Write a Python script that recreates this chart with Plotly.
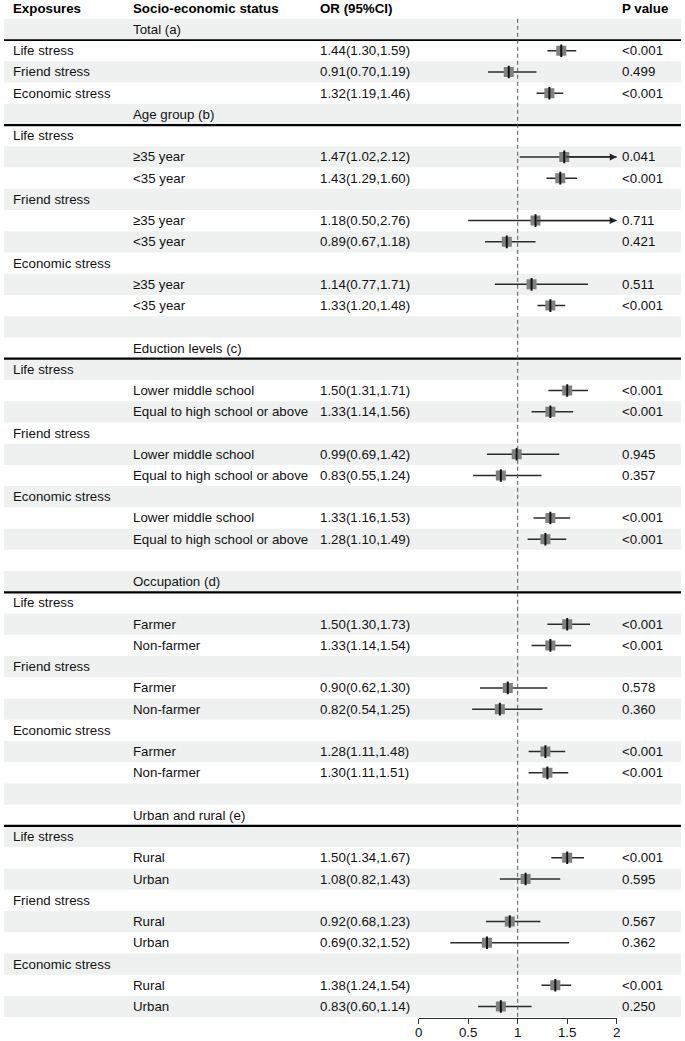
import plotly.graph_objects as go

# table columns (body rows, header kept separately)
header = ["Exposures", "Socio-economic status", "OR (95%CI)", "P value"]

exposure = [
    "", "Life stress", "Friend stress", "Economic stress",
    "", "Life stress", "", "", "Friend stress", "", "", "Economic stress", "", "",
    "", "", "Life stress", "", "", "Friend stress", "", "", "Economic stress", "", "",
    "", "", "Life stress", "", "", "Friend stress", "", "", "Economic stress", "", "",
    "", "", "Life stress", "", "", "Friend stress", "", "", "Economic stress", "", "",
]
status = [
    "Total (a)", "", "", "",
    "Age group (b)", "", "≥35 year", "<35 year", "", "≥35 year", "<35 year", "", "≥35 year", "<35 year",
    "", "Eduction levels (c)", "", "Lower middle school", "Equal to high school or above", "",
    "Lower middle school", "Equal to high school or above", "", "Lower middle school", "Equal to high school or above",
    "", "Occupation (d)", "", "Farmer", "Non-farmer", "", "Farmer", "Non-farmer", "", "Farmer", "Non-farmer",
    "", "Urban and rural (e)", "", "Rural", "Urban", "", "Rural", "Urban", "", "Rural", "Urban",
]
est = [
    None, 1.44, 0.91, 1.32,
    None, None, 1.47, 1.43, None, 1.18, 0.89, None, 1.14, 1.33,
    None, None, None, 1.50, 1.33, None, 0.99, 0.83, None, 1.33, 1.28,
    None, None, None, 1.50, 1.33, None, 0.90, 0.82, None, 1.28, 1.30,
    None, None, None, 1.50, 1.08, None, 0.92, 0.69, None, 1.38, 0.83,
]
lower = [
    None, 1.30, 0.70, 1.19,
    None, None, 1.02, 1.29, None, 0.50, 0.67, None, 0.77, 1.20,
    None, None, None, 1.31, 1.14, None, 0.69, 0.55, None, 1.16, 1.10,
    None, None, None, 1.30, 1.14, None, 0.62, 0.54, None, 1.11, 1.11,
    None, None, None, 1.34, 0.82, None, 0.68, 0.32, None, 1.24, 0.60,
]
upper = [
    None, 1.59, 1.19, 1.46,
    None, None, 2.12, 1.60, None, 2.76, 1.18, None, 1.71, 1.48,
    None, None, None, 1.71, 1.56, None, 1.42, 1.24, None, 1.53, 1.49,
    None, None, None, 1.73, 1.54, None, 1.30, 1.25, None, 1.48, 1.51,
    None, None, None, 1.67, 1.43, None, 1.23, 1.52, None, 1.54, 1.14,
]
pval = [
    "", "<0.001", "0.499", "<0.001",
    "", "", "0.041", "<0.001", "", "0.711", "0.421", "", "0.511", "<0.001",
    "", "", "", "<0.001", "<0.001", "", "0.945", "0.357", "", "<0.001", "<0.001",
    "", "", "", "<0.001", "<0.001", "", "0.578", "0.360", "", "<0.001", "<0.001",
    "", "", "", "<0.001", "0.595", "", "0.567", "0.362", "", "<0.001", "0.250",
]

x_ticks = [0, 0.5, 1, 1.5, 2]
x_min, x_max = 0, 2
ref_line = 1

W, H = 685, 1041
row_h = 21.24
top = 8.22
col_x = [7, 128, 318, 623]
font = "Liberation Sans, Arial, sans-serif"
fs = 13.3
shade = "#eff1f0"

rows = list(range(1, len(status) + 1))

fig = go.Figure()
shapes = []
annotations = []

# row shading
for r in rows:
    if r % 2 == 1:
        shapes.append(dict(type="rect", xref="paper", yref="y", x0=0, x1=1,
                           y0=r - 0.5, y1=r + 0.5, fillcolor=shade,
                           line_width=0, layer="below"))

# borders below group label rows (first one is a bit thinner)
first = True
for r, s, e in zip(rows, status, est):
    if s and e is None:
        shapes.append(dict(type="line", xref="paper", yref="y", x0=0, x1=1,
                           y0=r + 0.5, y1=r + 0.5,
                           line=dict(color="black", width=1.6 if first else 2.3)))
        first = False

# reference line
axis_px = 1018
shapes.append(dict(type="line", xref="x", yref="y", x0=ref_line, x1=ref_line,
                   y0=0.5, y1=(axis_px - top) / row_h,
                   line=dict(color="#555555", width=1, dash="4px,3px")))

# header
for cx, t in zip(col_x, header):
    annotations.append(dict(xref="paper", yref="y", x=cx / W, y=0, text="<b>%s</b>" % t,
                            showarrow=False, xanchor="left", yanchor="middle",
                            font=dict(family=font, size=fs, color="black")))

# body text
for r, ex, s, e, lo, hi, p in zip(rows, exposure, status, est, lower, upper, pval):
    ortxt = "%.2f(%.2f,%.2f)" % (e, lo, hi) if e is not None else ""
    for cx, t in zip(col_x, [ex, s, ortxt, p]):
        if t:
            annotations.append(dict(xref="paper", yref="y", x=cx / W, y=r, text=t,
                                    showarrow=False, xanchor="left", yanchor="middle",
                                    font=dict(family=font, size=fs, color="#111111")))

# CI lines
ci_x, ci_y = [], []
for r, e, lo, hi in zip(rows, est, lower, upper):
    if e is None:
        continue
    ci_x += [max(lo, x_min), min(hi, x_max), None]
    ci_y += [r, r, None]
    if hi > x_max:
        annotations.append(dict(xref="x", yref="y", x=x_max, y=r, axref="x", ayref="y",
                                ax=e, ay=r, text="", showarrow=True, arrowhead=2,
                                arrowsize=1, arrowwidth=1.4, arrowcolor="#222222", standoff=0))

fig.add_trace(go.Scatter(x=ci_x, y=ci_y, mode="lines", hoverinfo="skip",
                         line=dict(color="#2a2a2a", width=1.5), showlegend=False))

pt_x = [e for e in est if e is not None]
pt_y = [r for r, e in zip(rows, est) if e is not None]
fig.add_trace(go.Scatter(x=pt_x, y=pt_y, mode="markers", showlegend=False,
                         marker=dict(symbol="square", size=10, color="#808080", line_width=0)))
fig.add_trace(go.Scatter(x=pt_x, y=pt_y, mode="markers", showlegend=False,
                         marker=dict(symbol="line-ns", size=9,
                                     line=dict(color="#111111", width=2))))

fig.update_xaxes(
    domain=[419.5 / W, 620 / W],
    range=[x_min, x_max],
    tickvals=x_ticks,
    ticktext=[("%g" % v) for v in x_ticks],
    anchor="free",
    position=(H - axis_px) / H,
    showline=True, linecolor="#333333", linewidth=1,
    ticks="outside", ticklen=5, tickcolor="#333333", tickwidth=1,
    ticklabelstandoff=-3,
    showgrid=False, zeroline=False,
    tickfont=dict(family=font, size=fs, color="#111111"),
)
fig.update_yaxes(
    domain=[0, 1],
    range=[(H - top) / row_h, -top / row_h],
    visible=False, showgrid=False, zeroline=False,
)

fig.update_layout(
    width=W, height=H,
    margin=dict(l=0, r=0, t=0, b=0),
    plot_bgcolor="white",
    paper_bgcolor="white",
    shapes=shapes,
    annotations=annotations,
    showlegend=False,
)

# drop the browser's default page margin so the figure fills the window
fig.write_html("out.html", config={"displayModeBar": False},
               post_script="document.body.style.margin='0';document.body.style.overflow='hidden';")
